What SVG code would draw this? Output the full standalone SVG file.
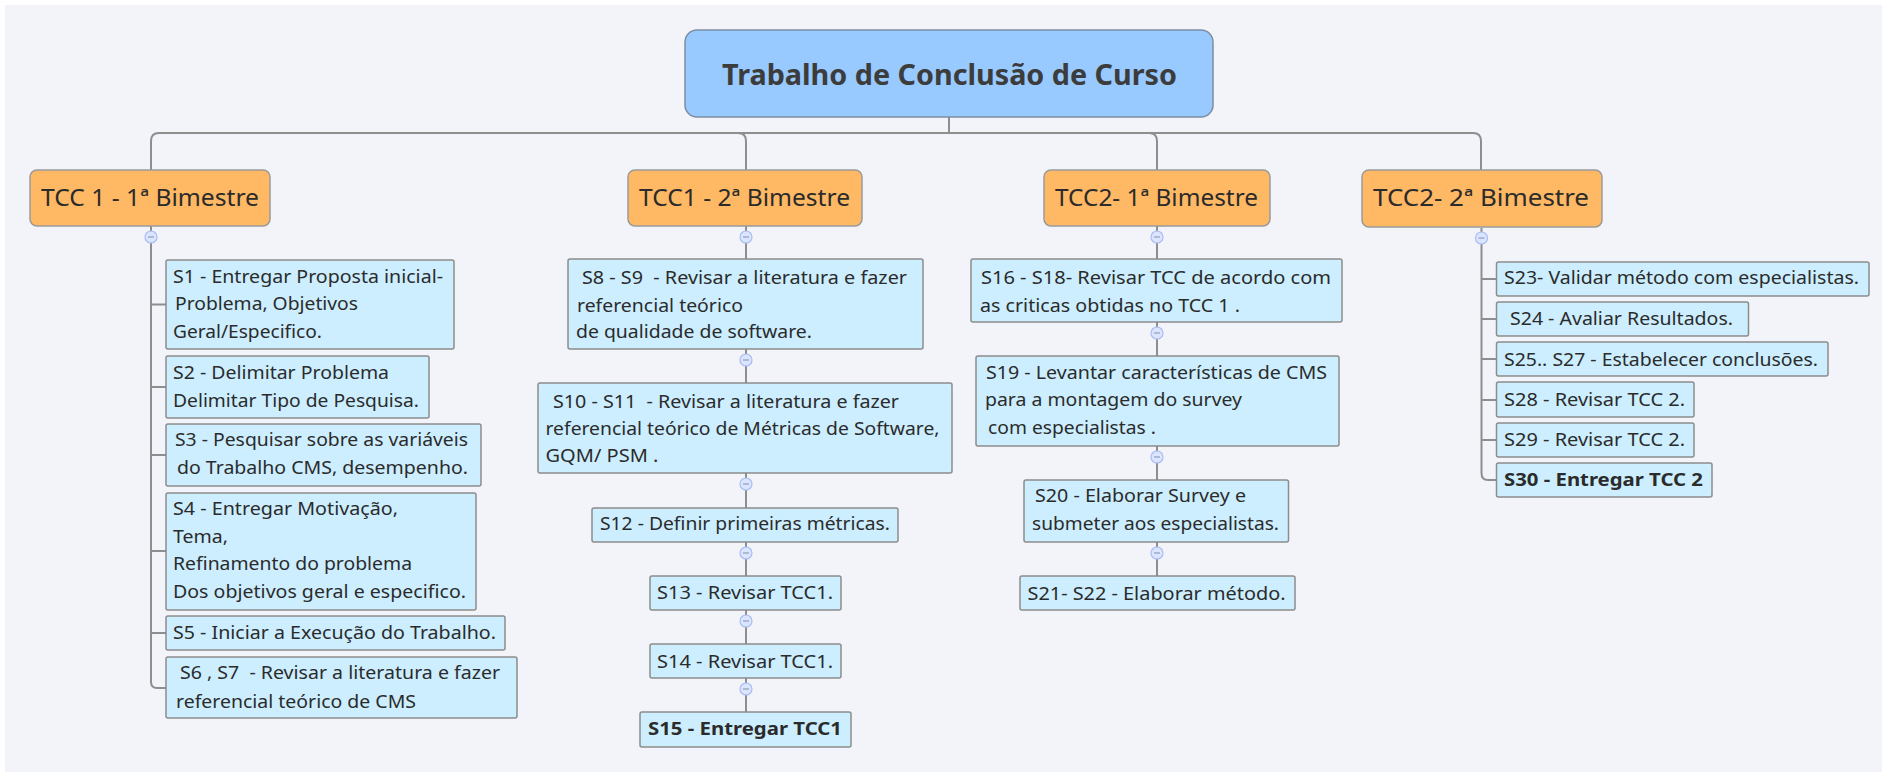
<svg xmlns="http://www.w3.org/2000/svg" width="1890" height="772" viewBox="0 0 1890 772">
<style>
text{font-family:"Noto Sans","Open Sans","DejaVu Sans",sans-serif;fill:#2b2b2b}
.t{font-size:18px}
.b{font-weight:bold}
.title{font-size:28.5px;font-weight:bold;fill:#3c3c3c}
.br{font-size:23.5px}
.box{fill:#CCEEFF;stroke:#8c8c8c;stroke-width:1.5}
.bnode{fill:#FFB864;stroke:#9a9a9a;stroke-width:1.5}
.root{fill:#98C9FF;stroke:#7c8da3;stroke-width:1.5}
.c{fill:none;stroke:#8e8e8e;stroke-width:2}
.cc{fill:#DCE5FF;stroke:#A9BDF2;stroke-width:1.2}
.m{stroke:#8e9bbd;stroke-width:1.2}
</style>
<rect x="0" y="0" width="1890" height="772" fill="#ffffff"/>
<rect x="5" y="5" width="1877" height="767" fill="#F2F4F9"/>
<g id="connectors">
<path class="c" d="M949,117 V133"/>
<path class="c" d="M151,170 V141 Q151,133 159,133 H1473 Q1481,133 1481,141 V170"/>
<path class="c" d="M738,133 Q746,133 746,141 V170"/>
<path class="c" d="M1149,133 Q1157,133 1157,141 V170"/>
<path class="c" d="M151,226 V682 Q151,688 157,688 H166"/>
<path class="c" d="M151,304.5 H166 M151,387 H166 M151,455 H166 M151,551 H166 M151,633 H166"/>
<path class="c" d="M746,226 V259 M746,349 V383 M746,473 V508 M746,542 V576 M746,610 V644 M746,678 V712"/>
<path class="c" d="M1157,226 V259 M1157,322 V356 M1157,446 V480 M1157,542 V576"/>
<path class="c" d="M1481.5,228 V473 Q1481.5,480 1488,480 H1496.5"/>
<path class="c" d="M1481.5,279 H1496.5 M1481.5,319 H1496.5 M1481.5,359 H1496.5 M1481.5,400 H1496.5 M1481.5,440 H1496.5"/>
</g>
<g id="root">
<rect class="root" x="685" y="30" width="528" height="87" rx="12"/>
<text class="title" x="722" y="85" textLength="455" lengthAdjust="spacingAndGlyphs">Trabalho de Conclusão de Curso</text>
</g>
<g id="b1">
<rect class="bnode" x="30" y="170" width="240" height="56" rx="7"/>
<text class="br" x="41" y="206" textLength="218" lengthAdjust="spacingAndGlyphs">TCC 1 - 1ª Bimestre</text>
</g>
<g id="b2">
<rect class="bnode" x="628" y="170" width="234" height="56" rx="7"/>
<text class="br" x="639" y="206" textLength="211" lengthAdjust="spacingAndGlyphs">TCC1 - 2ª Bimestre</text>
</g>
<g id="b3">
<rect class="bnode" x="1044" y="170" width="226" height="56" rx="7"/>
<text class="br" x="1055" y="206" textLength="203" lengthAdjust="spacingAndGlyphs">TCC2- 1ª Bimestre</text>
</g>
<g id="b4">
<rect class="bnode" x="1362" y="170" width="240" height="57" rx="7"/>
<text class="br" x="1373" y="206" textLength="216" lengthAdjust="spacingAndGlyphs">TCC2- 2ª Bimestre</text>
</g>
<g id="s1">
<rect class="box" x="166" y="260" width="288" height="89" rx="2"/>
<text class="t" x="173" y="283" textLength="270" lengthAdjust="spacingAndGlyphs">S1 - Entregar Proposta inicial-</text>
<text class="t" x="175" y="310" textLength="183" lengthAdjust="spacingAndGlyphs">Problema, Objetivos</text>
<text class="t" x="173" y="338" textLength="149" lengthAdjust="spacingAndGlyphs">Geral/Especifico.</text>
</g>
<g id="s2">
<rect class="box" x="166" y="356" width="263" height="62" rx="2"/>
<text class="t" x="173" y="379" textLength="216" lengthAdjust="spacingAndGlyphs">S2 - Delimitar Problema</text>
<text class="t" x="173" y="407" textLength="246" lengthAdjust="spacingAndGlyphs">Delimitar Tipo de Pesquisa.</text>
</g>
<g id="s3">
<rect class="box" x="166" y="424" width="315" height="62" rx="2"/>
<text class="t" x="175" y="446" textLength="293" lengthAdjust="spacingAndGlyphs">S3 - Pesquisar sobre as variáveis</text>
<text class="t" x="177" y="474" textLength="291" lengthAdjust="spacingAndGlyphs">do Trabalho CMS, desempenho.</text>
</g>
<g id="s4">
<rect class="box" x="166" y="493" width="310" height="117" rx="2"/>
<text class="t" x="173" y="515" textLength="225" lengthAdjust="spacingAndGlyphs">S4 - Entregar Motivação,</text>
<text class="t" x="173" y="543" textLength="55" lengthAdjust="spacingAndGlyphs">Tema,</text>
<text class="t" x="173" y="570" textLength="239" lengthAdjust="spacingAndGlyphs">Refinamento do problema</text>
<text class="t" x="173" y="598" textLength="293" lengthAdjust="spacingAndGlyphs">Dos objetivos geral e especifico.</text>
</g>
<g id="s5">
<rect class="box" x="166" y="616" width="339" height="34" rx="2"/>
<text class="t" x="173" y="639" textLength="323" lengthAdjust="spacingAndGlyphs">S5 - Iniciar a Execução do Trabalho.</text>
</g>
<g id="s6">
<rect class="box" x="166" y="657" width="351" height="61" rx="2"/>
<text class="t" x="180" y="679" textLength="320" lengthAdjust="spacingAndGlyphs" xml:space="preserve">S6 , S7  - Revisar a literatura e fazer</text>
<text class="t" x="176" y="708" textLength="240" lengthAdjust="spacingAndGlyphs">referencial teórico de CMS</text>
</g>
<g id="s8">
<rect class="box" x="568" y="259" width="355" height="90" rx="2"/>
<text class="t" x="582" y="284" textLength="325" lengthAdjust="spacingAndGlyphs" xml:space="preserve">S8 - S9  - Revisar a literatura e fazer</text>
<text class="t" x="577" y="312" textLength="166" lengthAdjust="spacingAndGlyphs">referencial teórico</text>
<text class="t" x="576" y="338" textLength="236" lengthAdjust="spacingAndGlyphs">de qualidade de software.</text>
</g>
<g id="s10">
<rect class="box" x="538" y="383" width="414" height="90" rx="2"/>
<text class="t" x="553" y="408" textLength="346" lengthAdjust="spacingAndGlyphs" xml:space="preserve">S10 - S11  - Revisar a literatura e fazer</text>
<text class="t" x="545.5" y="435" textLength="394" lengthAdjust="spacingAndGlyphs">referencial teórico de Métricas de Software,</text>
<text class="t" x="545.5" y="462" textLength="113" lengthAdjust="spacingAndGlyphs">GQM/ PSM .</text>
</g>
<g id="s12">
<rect class="box" x="592" y="508" width="306" height="34" rx="2"/>
<text class="t" x="600" y="530" textLength="290" lengthAdjust="spacingAndGlyphs">S12 - Definir primeiras métricas.</text>
</g>
<g id="s13">
<rect class="box" x="650" y="576" width="191" height="34" rx="2"/>
<text class="t" x="657" y="599" textLength="176" lengthAdjust="spacingAndGlyphs">S13 - Revisar TCC1.</text>
</g>
<g id="s14">
<rect class="box" x="650" y="644" width="191" height="34" rx="2"/>
<text class="t" x="657" y="668" textLength="176" lengthAdjust="spacingAndGlyphs">S14 - Revisar TCC1.</text>
</g>
<g id="s15">
<rect class="box" x="640" y="712" width="211" height="35" rx="2"/>
<text class="t b" x="648" y="735" textLength="194" lengthAdjust="spacingAndGlyphs">S15 - Entregar TCC1</text>
</g>
<g id="s16">
<rect class="box" x="971" y="259" width="371" height="63" rx="2"/>
<text class="t" x="981" y="284" textLength="350" lengthAdjust="spacingAndGlyphs">S16 - S18- Revisar TCC de acordo com</text>
<text class="t" x="980" y="312" textLength="260" lengthAdjust="spacingAndGlyphs">as criticas obtidas no TCC 1 .</text>
</g>
<g id="s19">
<rect class="box" x="976" y="356" width="363" height="90" rx="2"/>
<text class="t" x="986" y="379" textLength="341" lengthAdjust="spacingAndGlyphs">S19 - Levantar características de CMS</text>
<text class="t" x="985" y="406" textLength="257" lengthAdjust="spacingAndGlyphs">para a montagem do survey</text>
<text class="t" x="988" y="434" textLength="168" lengthAdjust="spacingAndGlyphs">com especialistas .</text>
</g>
<g id="s20">
<rect class="box" x="1024" y="480" width="264.5" height="62" rx="2"/>
<text class="t" x="1035" y="502" textLength="211" lengthAdjust="spacingAndGlyphs">S20 - Elaborar Survey e</text>
<text class="t" x="1032" y="530" textLength="247" lengthAdjust="spacingAndGlyphs">submeter aos especialistas.</text>
</g>
<g id="s21">
<rect class="box" x="1020" y="576" width="275" height="34" rx="2"/>
<text class="t" x="1027.5" y="600" textLength="258" lengthAdjust="spacingAndGlyphs">S21- S22 - Elaborar método.</text>
</g>
<g id="s23">
<rect class="box" x="1496.5" y="262" width="372.5" height="34" rx="2"/>
<text class="t" x="1504" y="284" textLength="355" lengthAdjust="spacingAndGlyphs">S23- Validar método com especialistas.</text>
</g>
<g id="s24">
<rect class="box" x="1496.5" y="302" width="252" height="34" rx="2"/>
<text class="t" x="1510" y="325" textLength="223" lengthAdjust="spacingAndGlyphs">S24 - Avaliar Resultados.</text>
</g>
<g id="s25">
<rect class="box" x="1496.5" y="342" width="331.5" height="34" rx="2"/>
<text class="t" x="1504" y="366" textLength="314" lengthAdjust="spacingAndGlyphs">S25.. S27 - Estabelecer conclusões.</text>
</g>
<g id="s28">
<rect class="box" x="1496.5" y="382" width="197.5" height="35" rx="2"/>
<text class="t" x="1504" y="406" textLength="181" lengthAdjust="spacingAndGlyphs">S28 - Revisar TCC 2.</text>
</g>
<g id="s29">
<rect class="box" x="1496.5" y="423" width="197.5" height="34" rx="2"/>
<text class="t" x="1504" y="446" textLength="181" lengthAdjust="spacingAndGlyphs">S29 - Revisar TCC 2.</text>
</g>
<g id="s30">
<rect class="box" x="1496.5" y="463" width="215.5" height="34" rx="2"/>
<text class="t b" x="1504" y="486" textLength="199" lengthAdjust="spacingAndGlyphs">S30 - Entregar TCC 2</text>
</g>
<g id="collapse">
<g><circle class="cc" cx="151" cy="237" r="6"/><path class="m" d="M148,237 H154"/></g>
<g><circle class="cc" cx="746" cy="237" r="6"/><path class="m" d="M743,237 H749"/></g>
<g><circle class="cc" cx="1157" cy="237" r="6"/><path class="m" d="M1154,237 H1160"/></g>
<g><circle class="cc" cx="1481.5" cy="238" r="6"/><path class="m" d="M1478.5,238 H1484.5"/></g>
<g><circle class="cc" cx="746" cy="360" r="6"/><path class="m" d="M743,360 H749"/></g>
<g><circle class="cc" cx="746" cy="484" r="6"/><path class="m" d="M743,484 H749"/></g>
<g><circle class="cc" cx="746" cy="553" r="6"/><path class="m" d="M743,553 H749"/></g>
<g><circle class="cc" cx="746" cy="621" r="6"/><path class="m" d="M743,621 H749"/></g>
<g><circle class="cc" cx="746" cy="689" r="6"/><path class="m" d="M743,689 H749"/></g>
<g><circle class="cc" cx="1157" cy="333" r="6"/><path class="m" d="M1154,333 H1160"/></g>
<g><circle class="cc" cx="1157" cy="457" r="6"/><path class="m" d="M1154,457 H1160"/></g>
<g><circle class="cc" cx="1157" cy="553" r="6"/><path class="m" d="M1154,553 H1160"/></g>
</g>
</svg>
